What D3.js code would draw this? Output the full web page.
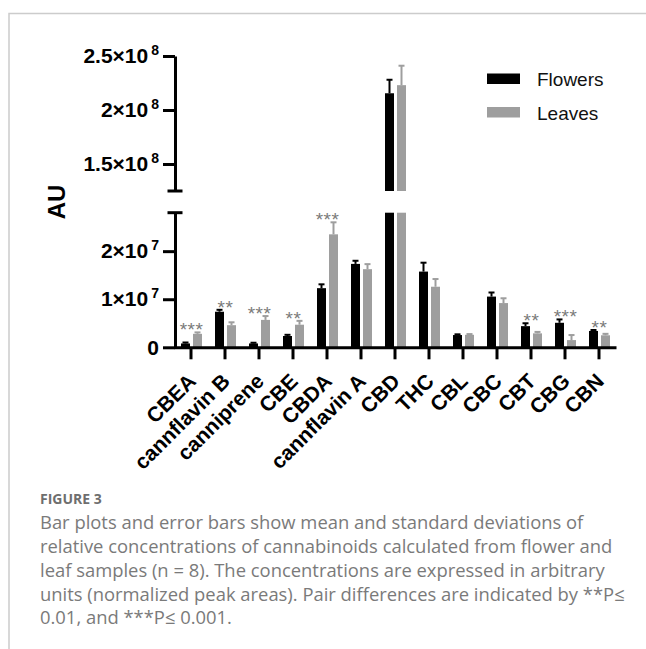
<!DOCTYPE html>
<html>
<head>
<meta charset="utf-8">
<script src="https://cdn.jsdelivr.net/npm/d3@7"></script>
<style>
body { margin: 0; background: #fff; }
svg text { font-family: "Liberation Sans", Arial, sans-serif; }
svg text.caption { font-family: "Open Sans", sans-serif; }
</style>
</head>
<body>
<svg id="chart" width="646" height="649"></svg>
<script>
// values (arbitrary units)
var categories = ["CBEA", "cannflavin B", "canniprene", "CBE", "CBDA", "cannflavin A",
    "CBD", "THC", "CBL", "CBC", "CBT", "CBG", "CBN"];
var flowersMean = [0.8e6, 7.4e6, 0.8e6, 2.35e6, 12.3e6, 17.35e6, 215.5e6, 15.75e6, 2.55e6, 10.55e6, 4.4e6, 5.1e6, 3.4e6];
var flowersSd   = [0.2e6, 0.4e6, 0.15e6, 0.25e6, 0.8e6, 0.65e6, 12.5e6, 1.85e6, 0.15e6, 0.85e6, 0.6e6, 0.7e6, 0.2e6];
var leavesMean  = [2.8e6, 4.6e6, 5.7e6, 4.7e6, 23.5e6, 16.25e6, 223e6, 12.6e6, 2.6e6, 9.2e6, 2.9e6, 1.5e6, 2.5e6];
var leavesSd    = [0.3e6, 0.6e6, 0.8e6, 0.8e6, 2.5e6, 1.05e6, 18e6, 1.6e6, 0.15e6, 1.0e6, 0.3e6, 1.05e6, 0.3e6];
var significance = ["***", "**", "***", "**", "***", "", "", "", "", "", "**", "***", "**"];

var seriesNames = ["Flowers", "Leaves"];
var seriesColors = ["#000000", "#9e9e9e"];

var lowerDomain = [0, 2.8e7];
var upperDomain = [1.25e8, 2.5e8];
var lowerTicks = [0, 1e7, 2e7];
var lowerTickLabels = [["0", ""], ["1×10", "7"], ["2×10", "7"]];
var upperTicks = [1.5e8, 2e8, 2.5e8];
var upperTickLabels = [["1.5×10", "8"], ["2×10", "8"], ["2.5×10", "8"]];

var captionTitle = "FIGURE 3";
var captionLines = [
    "Bar plots and error bars show mean and standard deviations of",
    "relative concentrations of cannabinoids calculated from flower and",
    "leaf samples (n = 8). The concentrations are expressed in arbitrary",
    "units (normalized peak areas). Pair differences are indicated by **P≤",
    "0.01, and ***P≤ 0.001."
];

var svg = d3.select("#chart");
var axisX = 175;

// panel frame
svg.append("path")
    .attr("d", "M9,649V13.5H646")
    .attr("fill", "none")
    .attr("stroke", "#cccccc")
    .attr("stroke-width", 1.5);

var x = d3.scaleBand().domain(categories).range([174, 616]);
var xInner = d3.scaleBand().domain(seriesNames).range([7, 28]).paddingInner(0.25);
var yLow = d3.scaleLinear().domain(lowerDomain).range([347.3, 212.7]);
var yUp = d3.scaleLinear().domain(upperDomain).range([191, 56]);

function yAny(v) {
    return v > lowerDomain[1] ? yUp(v) : yLow(v);
}

var bars = [];
categories.forEach(function(c, i) {
    bars.push({cat: c, s: 0, mean: flowersMean[i], sd: flowersSd[i]});
    bars.push({cat: c, s: 1, mean: leavesMean[i], sd: leavesSd[i]});
});

function barX(d) { return x(d.cat) + xInner(seriesNames[d.s]); }

// lower part of bars
svg.selectAll(".bar-low")
    .data(bars).enter()
    .append("rect")
    .attr("class", "bar-low")
    .attr("x", barX)
    .attr("width", xInner.bandwidth())
    .attr("y", function(d) { return yLow(Math.min(d.mean, lowerDomain[1])); })
    .attr("height", function(d) { return yLow(0) - yLow(Math.min(d.mean, lowerDomain[1])); })
    .attr("fill", function(d) { return seriesColors[d.s]; });

// upper part for bars that cross the break
svg.selectAll(".bar-up")
    .data(bars.filter(function(d) { return d.mean > upperDomain[0]; })).enter()
    .append("rect")
    .attr("class", "bar-up")
    .attr("x", barX)
    .attr("width", xInner.bandwidth())
    .attr("y", function(d) { return yUp(d.mean); })
    .attr("height", function(d) { return yUp(upperDomain[0]) - yUp(d.mean); })
    .attr("fill", function(d) { return seriesColors[d.s]; });

// error bars (upper side only)
var err = svg.selectAll(".err")
    .data(bars).enter()
    .append("g")
    .attr("class", "err")
    .attr("stroke", function(d) { return seriesColors[d.s]; })
    .attr("stroke-width", 2);
err.append("line")
    .attr("x1", function(d) { return barX(d) + xInner.bandwidth() / 2; })
    .attr("x2", function(d) { return barX(d) + xInner.bandwidth() / 2; })
    .attr("y1", function(d) { return yAny(d.mean); })
    .attr("y2", function(d) { return yAny(d.mean + d.sd); });
err.append("line")
    .attr("x1", function(d) { return barX(d) + xInner.bandwidth() / 2 - 3; })
    .attr("x2", function(d) { return barX(d) + xInner.bandwidth() / 2 + 3; })
    .attr("y1", function(d) { return yAny(d.mean + d.sd); })
    .attr("y2", function(d) { return yAny(d.mean + d.sd); });

// significance stars
svg.selectAll(".stars")
    .data(categories).enter()
    .append("text")
    .attr("class", "stars")
    .attr("x", function(c) { return x(c) + x.bandwidth() / 2 + 0.5; })
    .attr("y", function(c, i) {
        var top = Math.max(flowersMean[i] + flowersSd[i], leavesMean[i] + leavesSd[i]);
        return yAny(top) + 4;
    })
    .attr("text-anchor", "middle")
    .attr("font-size", 19)
    .attr("letter-spacing", 0.5)
    .attr("fill", "#7a7a7a")
    .text(function(c, i) { return significance[i]; });

// y axis, two segments
function styleAxis(g) {
    g.select(".domain").attr("stroke-width", 3);
    g.selectAll(".tick line").attr("stroke-width", 3);
    g.selectAll(".tick text")
        .attr("font-size", 21)
        .attr("font-weight", "bold")
        .attr("fill", "#000");
}

function superLabels(g, labels) {
    g.selectAll(".tick text").each(function(d, i) {
        var t = d3.select(this).text(null);
        t.append("tspan").text(labels[i][0]);
        if (labels[i][1]) {
            t.append("tspan")
                .attr("dx", 3)
                .attr("dy", -8)
                .attr("font-size", 14)
                .text(labels[i][1]);
        }
    });
}

var gUp = svg.append("g")
    .attr("transform", "translate(" + axisX + ",0)")
    .call(d3.axisLeft(yUp).tickValues(upperTicks).tickSize(12).tickSizeOuter(0).tickPadding(4));
styleAxis(gUp);
superLabels(gUp, upperTickLabels);

var gLow = svg.append("g")
    .attr("transform", "translate(" + axisX + ",0)")
    .call(d3.axisLeft(yLow).tickValues(lowerTicks).tickSize(12).tickSizeOuter(0).tickPadding(4));
styleAxis(gLow);
superLabels(gLow, lowerTickLabels);

// break caps
[yUp(upperDomain[0]), yLow(lowerDomain[1])].forEach(function(yy) {
    svg.append("line")
        .attr("x1", axisX - 7.5).attr("x2", axisX + 7.5)
        .attr("y1", yy).attr("y2", yy)
        .attr("stroke", "#000").attr("stroke-width", 3);
});

// x axis
var gX = svg.append("g")
    .attr("transform", "translate(0," + yLow(0) + ")")
    .call(d3.axisBottom(x).tickSize(12).tickSizeOuter(0));
gX.select(".domain").attr("stroke-width", 3);
gX.selectAll(".tick line").attr("stroke-width", 3);
gX.selectAll(".tick text")
    .attr("x", 0).attr("y", 0)
    .attr("dy", "0.35em")
    .attr("transform", "translate(1,30) rotate(-45)")
    .attr("text-anchor", "end")
    .attr("font-size", 21)
    .attr("font-weight", "bold")
    .attr("fill", "#000");

svg.append("text")
    .attr("transform", "translate(65,202) rotate(-90)")
    .attr("text-anchor", "middle")
    .attr("font-size", 24)
    .attr("font-weight", "bold")
    .text("AU");

// legend
var legend = svg.selectAll(".legend")
    .data(seriesNames).enter()
    .append("g")
    .attr("class", "legend")
    .attr("transform", function(d, i) { return "translate(487," + (73.5 + i * 33.5) + ")"; });
legend.append("rect")
    .attr("width", 33).attr("height", 10.5)
    .attr("fill", function(d, i) { return seriesColors[i]; });
legend.append("text")
    .attr("x", 50).attr("y", 12.5)
    .attr("font-size", 19)
    .attr("fill", "#111")
    .text(function(d) { return d; });

// caption
svg.append("text")
    .attr("class", "caption")
    .attr("x", 40).attr("y", 503.5)
    .attr("font-size", 14)
    .attr("font-weight", "bold")
    .attr("fill", "#6e6e6e")
    .text(captionTitle);
svg.selectAll(".caption-line")
    .data(captionLines).enter()
    .append("text")
    .attr("class", "caption caption-line")
    .attr("x", 40)
    .attr("y", function(d, i) { return 529.3 + i * 23.75; })
    .attr("font-size", 18.4)
    .attr("fill", "#7a7a7a")
    .text(function(d) { return d; });
</script>
</body>
</html>
